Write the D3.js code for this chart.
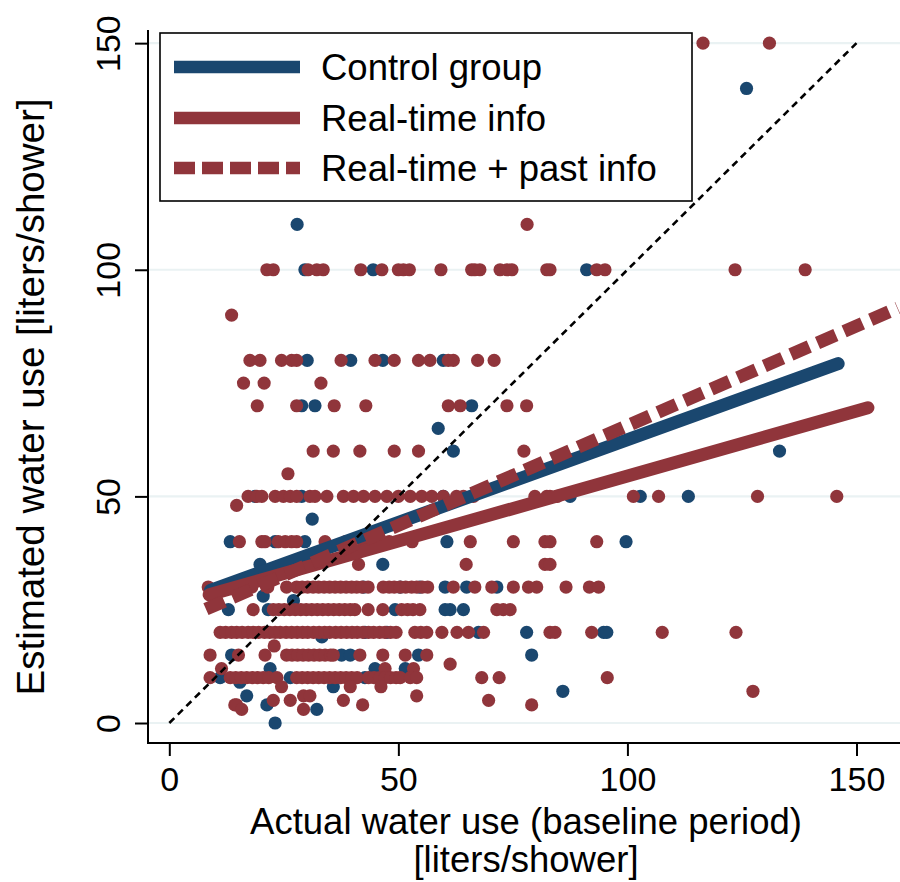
<!DOCTYPE html>
<html>
<head>
<meta charset="utf-8">
<script src="https://cdn.jsdelivr.net/npm/d3@7"></script>
<style>
  body { margin: 0; background: #fff; }
  svg { font-family: "Liberation Sans", Arial, Helvetica, sans-serif; }
</style>
</head>
<body>
<div id="chart"></div>
<script>
// Control group observations [actual, estimated]
const controlPoints = [
  [126.0, 140], [27.9, 110],
  [29.6, 100], [44.5, 100], [91.1, 100],
  [30.1, 80], [39.6, 80], [46.6, 80], [59.8, 80],
  [28.9, 70], [31.8, 70], [66.0, 70], [58.7, 65],
  [62.0, 60], [133.2, 60],
  [18.7, 50], [28.9, 50], [59.8, 50], [87.5, 50], [102.8, 50], [113.3, 50],
  [31.2, 45],
  [13.3, 40], [23.1, 40], [29.6, 40], [60.6, 40], [99.7, 40],
  [19.8, 35], [46.6, 35],
  [42.4, 30], [50.4, 30], [54.7, 30], [60.2, 30], [64.9, 30], [71.5, 30],
  [20.5, 28], [27.1, 27],
  [12.9, 25], [21.6, 25], [49.3, 25], [60.2, 25], [61.3, 25], [64.2, 25],
  [42.7, 20], [47.5, 20], [67.5, 20], [78.0, 20], [94.8, 20], [95.5, 20], [33.3, 19],
  [13.6, 15], [37.6, 15], [39.5, 15], [54.4, 15], [79.1, 15],
  [22.0, 12], [44.9, 12], [51.5, 12],
  [11.1, 10], [26.4, 10], [42.7, 10],
  [15.4, 9], [35.8, 8], [85.9, 7], [16.9, 6], [21.3, 4], [32.2, 3], [23.1, 0]
];

// Treatment observations (both info groups) [actual, estimated]
const treatedPoints = [
  [116.5, 150], [131.0, 150], [78.1, 110],
  [21.3, 100], [22.7, 100], [30.3, 100], [32.2, 100], [33.6, 100], [41.8, 100], [46.4, 100],
  [50.0, 100], [51.1, 100], [52.4, 100], [59.3, 100], [66.0, 100], [66.7, 100], [67.8, 100],
  [72.2, 100], [73.7, 100], [74.8, 100], [82.4, 100], [83.1, 100], [93.3, 100], [95.1, 100],
  [123.5, 100], [138.8, 100],
  [13.6, 90],
  [17.6, 80], [19.8, 80], [24.5, 80], [26.7, 80], [27.8, 80], [37.5, 80], [44.9, 80], [49.1, 80],
  [54.4, 80], [56.9, 80], [60.9, 80], [62.0, 80], [67.3, 80], [70.9, 80],
  [16.2, 75], [20.7, 75], [33.1, 75],
  [19.2, 70], [27.8, 70], [36.0, 70], [42.9, 70], [60.9, 70], [63.5, 70], [73.7, 70], [78.0, 70],
  [31.4, 60], [35.8, 60], [41.6, 60], [49.1, 60], [54.4, 60], [77.4, 60],
  [25.9, 55],
  [17.2, 50], [19.1, 50], [20.2, 50], [23.1, 50], [24.9, 50], [26.4, 50], [27.8, 50], [30.7, 50],
  [31.8, 50], [34.4, 50], [38.0, 50], [40.2, 50], [42.4, 50], [44.9, 50], [47.5, 50], [50.0, 50],
  [52.6, 50], [55.1, 50], [57.3, 50], [59.8, 50], [62.7, 50], [64.2, 50], [66.4, 50], [79.8, 50],
  [82.4, 50], [83.1, 50], [84.7, 50], [101.3, 50], [106.8, 50], [128.4, 50], [145.7, 50],
  [14.7, 48],
  [15.3, 40], [20.2, 40], [20.9, 40], [23.8, 40], [25.3, 40], [26.7, 40], [27.8, 40], [34.0, 40],
  [38.5, 40], [42.3, 40], [48.0, 40], [53.0, 40], [65.7, 40], [75.1, 40], [82.0, 40], [83.1, 40], [93.3, 40],
  [41.3, 35], [64.8, 35], [82.0, 35], [83.1, 35],
  [8.5, 30], [14.0, 30], [18.0, 30], [21.5, 30], [25.6, 30], [27.8, 30], [29.0, 30], [30.2, 30],
  [31.4, 30], [32.6, 30], [33.8, 30], [35.0, 30], [36.2, 30], [37.4, 30], [38.6, 30], [39.8, 30],
  [40.9, 30], [42.1, 30], [43.4, 30], [46.7, 30], [48.0, 30], [49.1, 30], [50.4, 30], [51.6, 30],
  [52.9, 30], [54.0, 30], [55.2, 30], [56.4, 30], [62.0, 30], [66.7, 30], [70.4, 30], [75.1, 30],
  [78.4, 30], [80.2, 30], [86.6, 30], [91.7, 30], [93.7, 30],
  [18.3, 25], [22.7, 25], [23.9, 25], [25.1, 25], [26.3, 25], [27.5, 25], [28.7, 25], [29.9, 25],
  [31.1, 25], [32.3, 25], [33.5, 25], [34.7, 25], [35.9, 25], [37.1, 25], [38.3, 25], [39.5, 25],
  [40.5, 25], [43.4, 25], [46.6, 25], [50.7, 25], [52.0, 25], [53.2, 25], [54.7, 25], [71.5, 25],
  [72.9, 25], [74.4, 25],
  [11.1, 20], [12.3, 20], [13.6, 20], [14.7, 20], [15.9, 20], [17.2, 20], [18.3, 20], [19.5, 20],
  [20.8, 20], [21.9, 20], [23.1, 20], [24.2, 20], [25.5, 20], [26.7, 20], [27.9, 20], [29.1, 20],
  [30.2, 20], [31.5, 20], [32.7, 20], [33.9, 20], [35.0, 20], [36.3, 20], [37.5, 20], [38.7, 20],
  [39.9, 20], [41.0, 20], [42.3, 20], [43.5, 20], [44.6, 20], [45.9, 20], [47.1, 20], [48.3, 20],
  [49.5, 20], [53.6, 20], [54.9, 20], [56.2, 20], [59.5, 20], [62.8, 20], [65.3, 20], [68.6, 20],
  [83.1, 20], [84.2, 20], [92.2, 20], [107.6, 20], [123.7, 20],
  [22.9, 17],
  [8.9, 15], [15.1, 15], [20.9, 15], [25.6, 15], [26.8, 15], [28.0, 15], [29.2, 15], [30.4, 15],
  [31.6, 15], [32.8, 15], [34.0, 15], [35.2, 15], [35.8, 15], [41.6, 15], [46.6, 15], [51.5, 15], [56.2, 15],
  [61.3, 13], [11.4, 12], [47.1, 12], [53.3, 12],
  [8.9, 10], [13.3, 10], [14.5, 10], [15.7, 10], [16.9, 10], [18.1, 10], [19.3, 10], [20.5, 10],
  [21.7, 10], [23.5, 10], [27.8, 10], [29.0, 10], [30.2, 10], [31.4, 10], [32.6, 10], [33.8, 10],
  [35.0, 10], [36.2, 10], [37.4, 10], [38.6, 10], [39.8, 10], [41.0, 10], [43.5, 10], [44.7, 10],
  [45.9, 10], [47.1, 10], [48.3, 10], [49.5, 10], [50.4, 10], [52.6, 10], [54.0, 10], [68.2, 10],
  [72.0, 10], [95.6, 10],
  [24.5, 8], [39.5, 8], [46.2, 8], [127.4, 7],
  [29.3, 6], [30.7, 6], [54.0, 6],
  [22.7, 5], [26.4, 5], [38.0, 5], [69.7, 5],
  [14.3, 4], [14.7, 4], [42.2, 4], [79.1, 4],
  [15.8, 3], [29.3, 3]
];

// Linear fits: intercept, slope, x-range
const fitNames = ['Control group', 'Real-time info', 'Real-time + past info'];
const fitIntercepts = [26.0, 25.8, 21.6];
const fitSlopes = [0.365, 0.287, 0.44];
const fitRanges = [[9, 146], [8.7, 152.5], [8, 159]];

const xTicks = [0, 50, 100, 150];
const yTicks = [0, 50, 100, 150];

class ScatterChart {
  constructor(_config) {
    this.config = {
      parentElement: _config.parentElement,
      containerWidth: 900,
      containerHeight: 882,
      plot: {left: 148, right: 900, top: 30, bottom: 743},
      navy: '#1a476f',
      maroon: '#90353b',
      grid: '#eaf2f3',
      dotRadius: 6.6
    };
    this.initVis();
  }

  initVis() {
    let vis = this;
    const p = vis.config.plot;

    vis.xScale = d3.scaleLinear().domain([-4.65, 159.5]).range([p.left, p.right]);
    vis.yScale = d3.scaleLinear().domain([-4.41, 152.9]).range([p.bottom, p.top]);

    vis.svg = d3.select(vis.config.parentElement).append('svg')
      .attr('width', vis.config.containerWidth)
      .attr('height', vis.config.containerHeight);

    vis.renderVis();
  }

  renderVis() {
    let vis = this;
    const p = vis.config.plot;
    const x = vis.xScale, y = vis.yScale;

    // grid lines
    vis.svg.append('g').selectAll('line')
      .data(yTicks)
      .join('line')
      .attr('x1', p.left).attr('x2', p.right)
      .attr('y1', d => y(d)).attr('y2', d => y(d))
      .attr('stroke', vis.config.grid)
      .attr('stroke-width', 2.2);

    // scatter points
    vis.svg.append('g').selectAll('circle')
      .data(controlPoints)
      .join('circle')
      .attr('cx', d => x(d[0])).attr('cy', d => y(d[1]))
      .attr('r', vis.config.dotRadius)
      .attr('fill', vis.config.navy);

    vis.svg.append('g').selectAll('circle')
      .data(treatedPoints)
      .join('circle')
      .attr('cx', d => x(d[0])).attr('cy', d => y(d[1]))
      .attr('r', vis.config.dotRadius)
      .attr('fill', vis.config.maroon);

    // fitted lines
    const fitColors = [vis.config.navy, vis.config.maroon, vis.config.maroon];
    const fitDash = [null, null, '20,9'];
    vis.svg.append('g').selectAll('line')
      .data(fitNames.map((n, i) => i))
      .join('line')
      .attr('x1', i => x(fitRanges[i][0]))
      .attr('y1', i => y(fitIntercepts[i] + fitSlopes[i] * fitRanges[i][0]))
      .attr('x2', i => x(fitRanges[i][1]))
      .attr('y2', i => y(fitIntercepts[i] + fitSlopes[i] * fitRanges[i][1]))
      .attr('stroke', i => fitColors[i])
      .attr('stroke-width', 13)
      .attr('stroke-linecap', i => fitDash[i] ? 'butt' : 'round')
      .attr('stroke-dasharray', i => fitDash[i]);

    // 45 degree line
    vis.svg.append('line')
      .attr('x1', x(0)).attr('y1', y(0))
      .attr('x2', x(150)).attr('y2', y(150))
      .attr('stroke', '#000')
      .attr('stroke-width', 2.6)
      .attr('stroke-dasharray', '7,5');

    // axes
    const xAxis = d3.axisBottom(x).tickValues(xTicks).tickSize(13).tickPadding(8).tickFormat(d3.format('d'));
    const xAxisG = vis.svg.append('g')
      .attr('transform', `translate(0,${p.bottom})`)
      .call(xAxis);
    xAxisG.select('.domain').remove();
    xAxisG.selectAll('.tick line').attr('stroke', '#000').attr('stroke-width', 2);
    xAxisG.selectAll('.tick text')
      .attr('font-size', 34).attr('fill', '#000').attr('dy', null).attr('y', 48);

    const yAxis = d3.axisLeft(y).tickValues(yTicks).tickSize(13).tickFormat(d3.format('d'));
    const yAxisG = vis.svg.append('g')
      .attr('transform', `translate(${p.left},0)`)
      .call(yAxis);
    yAxisG.select('.domain').remove();
    yAxisG.selectAll('.tick line').attr('stroke', '#000').attr('stroke-width', 2);
    yAxisG.selectAll('.tick text')
      .attr('font-size', 34).attr('fill', '#000')
      .attr('x', null).attr('dy', null)
      .attr('text-anchor', 'middle')
      .attr('transform', 'translate(-28,0) rotate(-90)');

    // axis lines
    vis.svg.append('line')
      .attr('x1', p.left).attr('x2', p.left).attr('y1', p.top).attr('y2', p.bottom + 1)
      .attr('stroke', '#000').attr('stroke-width', 2);
    vis.svg.append('line')
      .attr('x1', p.left - 1).attr('x2', p.right).attr('y1', p.bottom).attr('y2', p.bottom)
      .attr('stroke', '#000').attr('stroke-width', 2);

    // axis titles
    vis.svg.append('text')
      .attr('x', 526).attr('y', 834)
      .attr('text-anchor', 'middle')
      .attr('font-size', 36.5)
      .text('Actual water use (baseline period)');
    vis.svg.append('text')
      .attr('x', 526).attr('y', 872)
      .attr('text-anchor', 'middle')
      .attr('font-size', 36.5)
      .text('[liters/shower]');
    vis.svg.append('text')
      .attr('transform', 'translate(44,397) rotate(-90)')
      .attr('text-anchor', 'middle')
      .attr('font-size', 38.5)
      .text('Estimated water use [liters/shower]');

    vis.renderLegend(fitColors, fitDash);
  }

  renderLegend(colors, dashes) {
    let vis = this;
    const lg = vis.svg.append('g');
    lg.append('rect')
      .attr('x', 160).attr('y', 33)
      .attr('width', 532).attr('height', 168)
      .attr('fill', '#fff').attr('stroke', '#000').attr('stroke-width', 1.6);

    const rowY = [67, 118, 168];
    lg.selectAll('.key')
      .data(fitNames.map((n, i) => i))
      .join('line')
      .attr('x1', 174).attr('x2', 300)
      .attr('y1', i => rowY[i]).attr('y2', i => rowY[i])
      .attr('stroke', i => colors[i])
      .attr('stroke-width', 12.5)
      .attr('stroke-dasharray', i => dashes[i] ? '21,7' : null);

    lg.selectAll('.label')
      .data(fitNames)
      .join('text')
      .attr('x', 321)
      .attr('y', (d, i) => rowY[i] + 13)
      .attr('font-size', 36.5)
      .text(d => d);
  }
}

new ScatterChart({parentElement: '#chart'});
</script>
</body>
</html>
